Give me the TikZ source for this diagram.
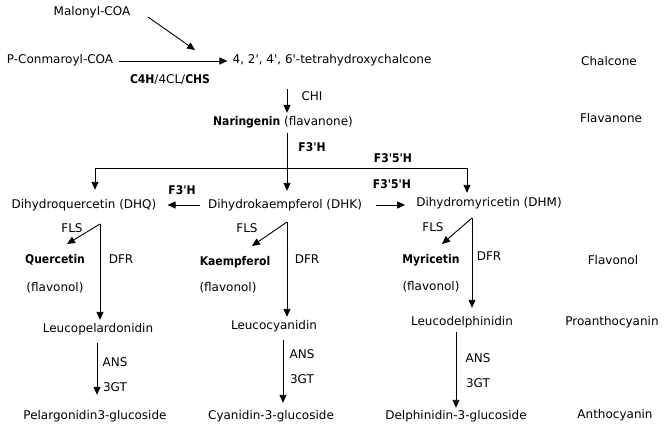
\documentclass[tikz,border=0pt]{standalone}
\usepackage{fontspec}
\setmainfont{DejaVu Sans}[Ligatures=TeXOff, BoldFont={DejaVu Sans Condensed Bold}]
\usetikzlibrary{arrows.meta,calc}
\begin{document}
\begin{tikzpicture}[x=1pt,y=-1pt,
  every node/.style={font=\fontsize{12}{14}\selectfont, inner sep=0pt, text height=9pt, text depth=3pt},
  arr/.style={draw, line width=0.9pt, -{Triangle[length=8pt,width=7pt]}},
  ln/.style={draw, line width=0.9pt}]
\useasboundingbox (0,0) rectangle (665,436);
% ---------- top ----------
\node (mal) at (92,13) {Malonyl-COA};
\node (pcoa) at (60,61) {P-Conmaroyl-COA};
\node (chal) at (332,61) {4, 2', 4', 6'-tetrahydroxychalcone};
\node (e1) at (170,81) {\textbf{C4H}/4CL/\textbf{CHS}};
\node (chi) at (312,98) {CHI};
\node (nar) at (283,122) {\textbf{Naringenin} (flavanone)};
\node (e2) at (312,148) {\textbf{F3'H}};
\node (e3) at (393,160) {\textbf{F3'5'H}};
\node (e4) at (392,185) {\textbf{F3'5'H}};
\node (e5) at (182,191) {\textbf{F3'H}};
\node (dhq) at (84,205) {Dihydroquercetin (DHQ)};
\node (dhk) at (285,205) {Dihydrokaempferol (DHK)};
\node (dhm) at (489,203) {Dihydromyricetin (DHM)};
% ---------- right labels ----------
\node (lch) at (609,63) {Chalcone};
\node (lfa) at (611,120) {Flavanone};
\node (lfo) at (613,261) {Flavonol};
\node (lpr) at (612,322) {Proanthocyanin};
\node (lan) at (615,415) {Anthocyanin};
% ---------- column 1 ----------
\node (fls1) at (72,230) {FLS};
\node (q) at (55,260) {\textbf{Quercetin}};
\node (fv1) at (55,288) {(flavonol)};
\node (dfr1) at (121,260) {DFR};
\node (lp) at (98,329) {Leucopelardonidin};
\node (ans1) at (115,363) {ANS};
\node (gt1) at (115,388) {3GT};
\node (pg) at (95,416) {Pelargonidin3-glucoside};
% ---------- column 2 ----------
\node (fls2) at (247,230) {FLS};
\node (k) at (235,262) {\textbf{Kaempferol}};
\node (fv2) at (228,288) {(flavonol)};
\node (dfr2) at (307,260) {DFR};
\node (lc) at (274,326) {Leucocyanidin};
\node (ans2) at (302,355) {ANS};
\node (gt2) at (302,380) {3GT};
\node (cy) at (271,416) {Cyanidin-3-glucoside};
% ---------- column 3 ----------
\node (fls3) at (433,228) {FLS};
\node (my) at (431,260) {\textbf{Myricetin}};
\node (fv3) at (431,287) {(flavonol)};
\node (dfr3) at (489,257) {DFR};
\node (ld) at (462,322) {Leucodelphinidin};
\node (ans3) at (478,359) {ANS};
\node (gt3) at (478,384) {3GT};
\node (dp) at (456,416) {Delphinidin-3-glucoside};
% ---------- coordinates ----------
\coordinate (m1) at (148,17);
\coordinate (m2) at (195,50);
\coordinate (cx) at (287,89);
\coordinate (hl) at (95,168);
\coordinate (hr) at (467,168);
\coordinate (v1) at (100,224);
\coordinate (t1) at (67,244);
\coordinate (a1) at (97,0);
\coordinate (v2) at (287,222);
\coordinate (t2) at (252,246);
\coordinate (a2) at (283,0);
\coordinate (v3) at (472,218);
\coordinate (t3) at (442,244);
\coordinate (a3) at (456,0);
% ---------- connectors ----------
\draw[arr] (m1) -- (m2);
\draw[arr, shorten <=6pt, shorten >=5pt] (pcoa.east) -- (chal.west);
\draw[arr, shorten >=3pt] (cx) -- (nar.north -| cx);
\draw[arr, shorten <=5pt, shorten >=8pt] (nar.south -| cx) -- (dhk.north -| cx);
\draw[ln] (hl) -- (hr);
\draw[arr, shorten >=9pt] (hl) -- (dhq.north -| hl);
\draw[arr, shorten >=4pt] (hr) -- (dhm.north -| hr);
\draw[arr, shorten <=8pt, shorten >=11pt] (dhk.west) -- (dhq.east);
\draw[arr, shorten <=14pt, shorten >=11pt] (dhk.east) -- (dhm.west |- dhk.east);
% column 1
\draw[arr] (v1) -- (t1);
\draw[arr, shorten >=3pt] (v1) -- (lp.north -| v1);
\draw[arr, shorten <=8pt, shorten >=15pt] (lp.south -| a1) -- (pg.north -| a1);
% column 2
\draw[arr] (v2) -- (t2);
\draw[arr, shorten >=3pt] (v2) -- (lc.north -| v2);
\draw[arr, shorten <=8pt, shorten >=7pt] (lc.south -| a2) -- (cy.north -| a2);
% column 3
\draw[arr] (v3) -- (t3);
\draw[arr, shorten >=8pt] (v3) -- (ld.north -| v3);
\draw[arr, shorten <=4pt, shorten >=2pt] (ld.south -| a3) -- (dp.north -| a3);
\end{tikzpicture}
\end{document}
